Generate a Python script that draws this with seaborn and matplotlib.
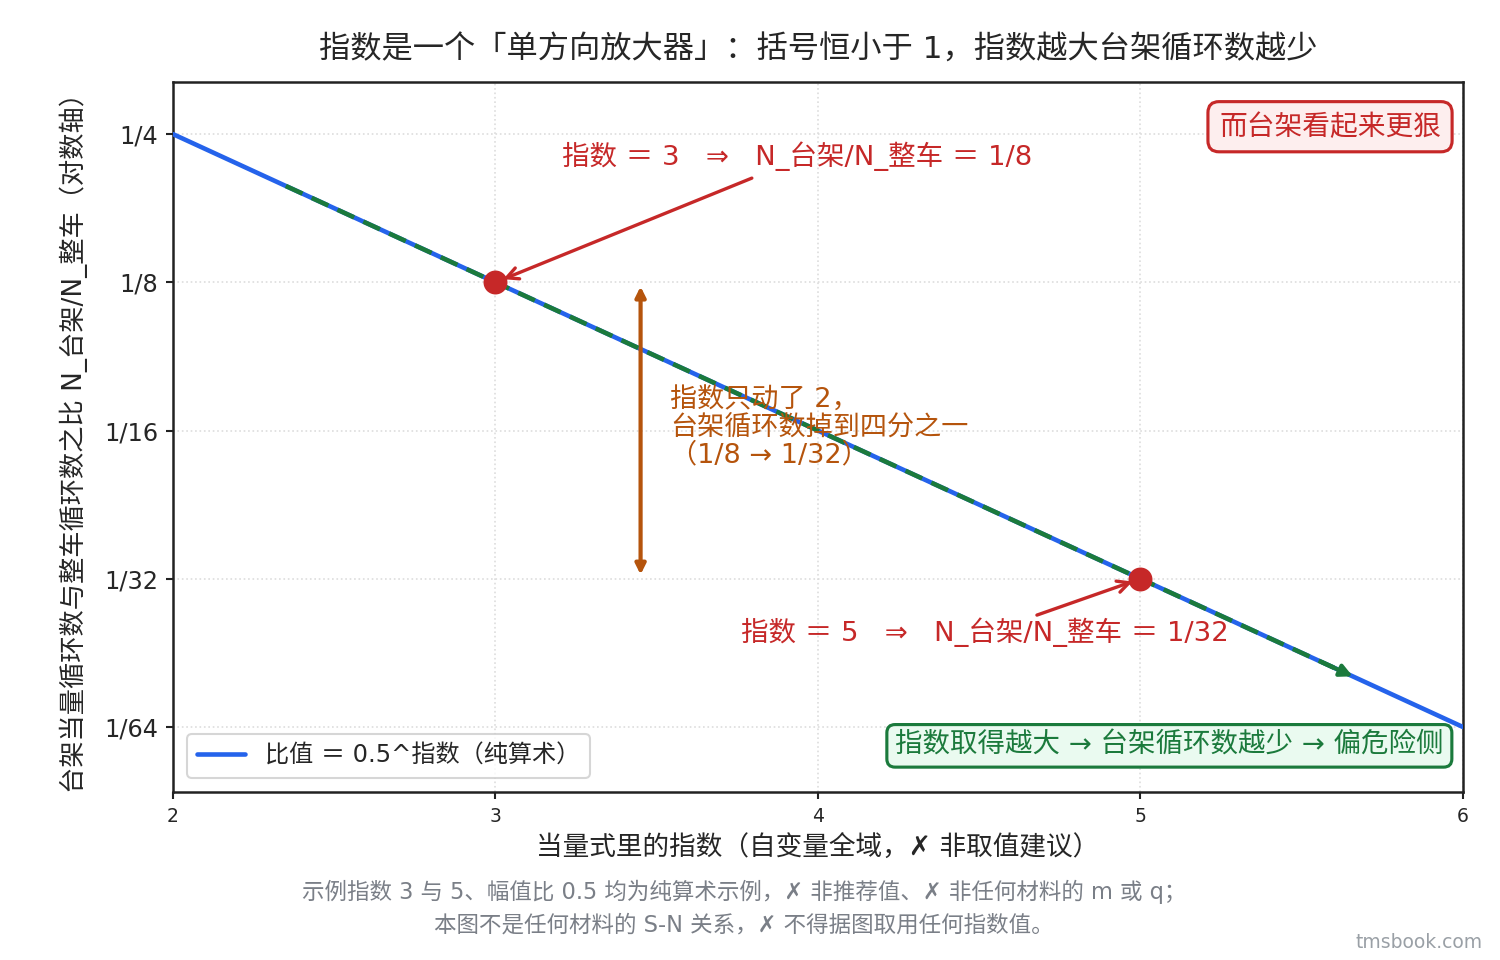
import numpy as np
import pandas as pd
import matplotlib
matplotlib.use('Agg')
import matplotlib.pyplot as plt
import seaborn as sns

# 数据
exponents = [2, 3, 4, 5, 6]
ratios = [1/4, 1/8, 1/16, 1/32, 1/64]
ytick_labels = ['1/4', '1/8', '1/16', '1/32', '1/64']
xticks = [2, 3, 4, 5, 6]
hl_x = [3, 5]
hl_y = [1/8, 1/32]

BLUE = '#2563eb'
GREEN = '#1b7a3c'
RED = '#c62828'
ORANGE = '#b5540c'
GRAY = '#7a7f87'

sns.set_theme(style='white')
plt.rcParams['font.family'] = ['DejaVu Sans', 'Noto Sans CJK SC']
plt.rcParams['axes.unicode_minus'] = False

df = pd.DataFrame({'exp': exponents, 'ratio': ratios})

fig = plt.figure(figsize=(10, 6.4), dpi=150)
ax = fig.add_axes([0.1153, 0.175, 0.86, 0.7396])

sns.lineplot(data=df, x='exp', y='ratio', ax=ax, color=BLUE, lw=2.2,
             label='比值 ＝ 0.5^指数（纯算术）', zorder=3)

ax.set_yscale('log', base=2)
ax.set_xlim(2, 6)
ax.set_ylim(0.01153, 0.319)
ax.set_xticks(xticks)
ax.set_xticklabels([str(v) for v in xticks], fontsize=9)
ax.set_yticks(ratios)
ax.set_yticklabels(ytick_labels, fontsize=11.5)
ax.minorticks_off()
ax.tick_params(axis='both', which='major', direction='out', length=3.5, width=1, color='#222222', bottom=True, left=True)
ax.grid(True, linestyle=':', color='#dddddd', lw=0.8)
for s in ax.spines.values():
    s.set_color('#222222')
    s.set_linewidth(1.2)

# 绿色虚线箭头（沿曲线）
gx = [2.35, 5.60]
gy = [0.5 ** v for v in gx]
ax.plot(gx, gy, color=GREEN, lw=2.2, ls=(0, (4, 2.2)), zorder=4)
ax.annotate('', xy=(5.67, 0.5 ** 5.67), xytext=(5.55, 0.5 ** 5.55),
            arrowprops=dict(arrowstyle='-|>', color=GREEN, lw=2, mutation_scale=12), zorder=4)

# 红点
ax.scatter(hl_x, hl_y, s=110, color=RED, zorder=6)

# 红色标注
ax.text(3.206, 0.2258, '指数 ＝ 3   ⇒   N_台架/N_整车 ＝ 1/8', color=RED, fontsize=13.2,
        ha='left', va='center')
ax.annotate('', xy=(3, 1/8), xytext=(3.795, 2 ** -2.297),
            arrowprops=dict(arrowstyle='->', color=RED, lw=1.6, shrinkA=0, shrinkB=4,
                            mutation_scale=14))
ax.text(3.761, 2 ** -5.359, '指数 ＝ 5   ⇒   N_台架/N_整车 ＝ 1/32', color=RED, fontsize=13.2,
        ha='left', va='center')
ax.annotate('', xy=(5, 1/32), xytext=(4.679, 2 ** -5.245),
            arrowprops=dict(arrowstyle='->', color=RED, lw=1.6, shrinkA=0, shrinkB=4,
                            mutation_scale=14))

# 橙色双向箭头
ax.annotate('', xy=(3.45, 1/32), xytext=(3.45, 1/8),
            arrowprops=dict(arrowstyle='<|-|>', color=ORANGE, lw=2, shrinkA=2, shrinkB=2,
                            mutation_scale=10))
ax.text(3.541, 2 ** -3.983, '指数只动了 2，\n台架循环数掉到四分之一\n（1/8 → 1/32）',
        color=ORANGE, fontsize=13, ha='left', va='center', linespacing=1.05, zorder=5)

# 角落注释框
ax.text(0.983, 0.937, '而台架看起来更狠', transform=ax.transAxes, color=RED, fontsize=13.3,
        ha='right', va='center',
        bbox=dict(boxstyle='round,pad=0.4', fc='#fdeeee', ec=RED, lw=1.5))
ax.text(0.985, 0.065, '指数取得越大 → 台架循环数越少 → 偏危险侧', transform=ax.transAxes,
        color=GREEN, fontsize=13.2, ha='right', va='center',
        bbox=dict(boxstyle='round,pad=0.3', fc='#eafaf0', ec=GREEN, lw=1.5))

leg = ax.legend(loc='lower left', fontsize=11.6, frameon=True, fancybox=True,
                borderaxespad=0.6, handlelength=2.0)
leg.get_frame().set_edgecolor('#cccccc')
leg.get_frame().set_linewidth(1)

ax.set_title('指数是一个「单方向放大器」：括号恒小于 1，指数越大台架循环数越少', fontsize=15, pad=11)
ax.set_xlabel('当量式里的指数（自变量全域，✗ 非取值建议）', fontsize=12.8, labelpad=5)
ax.set_ylabel('台架当量循环数与整车循环数之比 N_台架/N_整车（对数轴）', fontsize=12.6, labelpad=8)

fig.text(0.496, 0.0708, '示例指数 3 与 5、幅值比 0.5 均为纯算术示例，✗ 非推荐值、✗ 非任何材料的 m 或 q；',
         ha='center', va='center', fontsize=10.8, color=GRAY)
fig.text(0.496, 0.0365, '本图不是任何材料的 S-N 关系，✗ 不得据图取用任何指数值。',
         ha='center', va='center', fontsize=10.8, color=GRAY)
fig.text(0.9887, 0.018, 'tmsbook.com', ha='right', va='center', fontsize=9, color='#9aa0a6')

fig.savefig('out.png', dpi=150)
